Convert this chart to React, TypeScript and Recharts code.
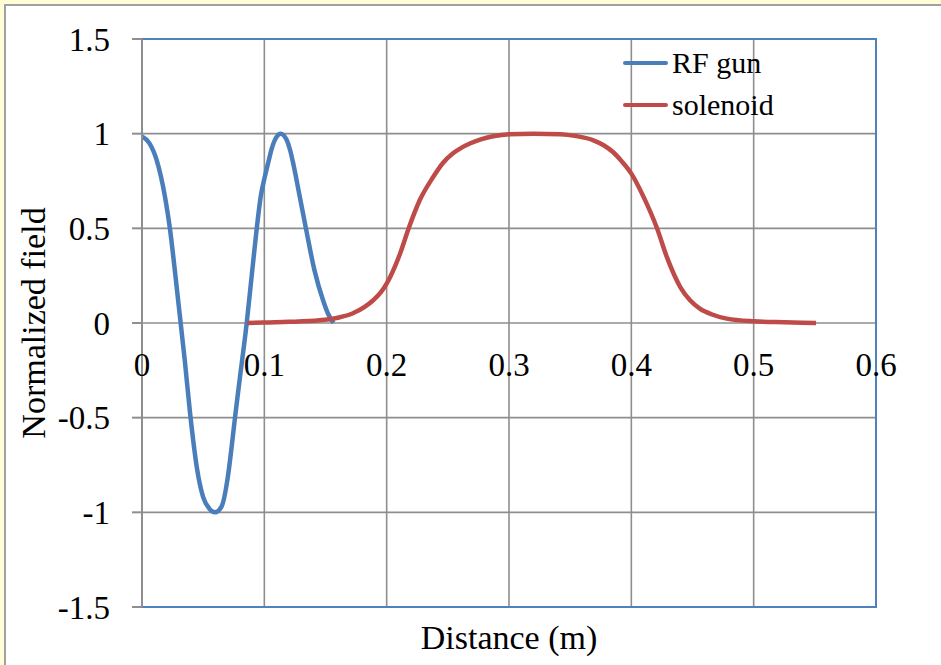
import { LineChart, Line, XAxis, YAxis, CartesianGrid, ReferenceArea } from 'recharts';

// values
const rfGunX = [
  0, 0.006, 0.012, 0.0188, 0.0228, 0.028, 0.0316, 0.035, 0.0392, 0.045, 0.05, 0.055, 0.0597,
  0.065, 0.07, 0.073, 0.076, 0.08, 0.0856, 0.09, 0.0938, 0.097, 0.1005, 0.1033, 0.106, 0.11,
  0.1134, 0.118, 0.121, 0.1237, 0.129, 0.134, 0.141, 0.148, 0.152, 0.1565,
];
const rfGunField = [
  0.985, 0.95, 0.86, 0.666, 0.5, 0.21, 0, -0.2, -0.47, -0.77, -0.92, -0.98, -1.0,
  -0.97, -0.82, -0.67, -0.5, -0.29, 0, 0.27, 0.5, 0.666, 0.775, 0.85, 0.92, 0.983,
  1.0, 0.97, 0.915, 0.84, 0.666, 0.5, 0.278, 0.12, 0.05, 0,
];
const solenoidX = [
  0.086, 0.1, 0.12, 0.145, 0.16, 0.172, 0.182, 0.189, 0.195, 0.2, 0.211, 0.218, 0.227, 0.238,
  0.246, 0.254, 0.261, 0.268, 0.277, 0.287, 0.3, 0.32, 0.342, 0.355, 0.369, 0.377, 0.385, 0.392,
  0.4, 0.41, 0.421, 0.429, 0.44, 0.448, 0.456, 0.466, 0.478, 0.5, 0.525, 0.551,
];
const solenoidField = [
  0, 0.003, 0.006, 0.014, 0.028, 0.05, 0.085, 0.12, 0.16, 0.208, 0.367, 0.5, 0.648, 0.771,
  0.845, 0.895, 0.925, 0.948, 0.97, 0.986, 0.997, 1.0, 0.997, 0.987, 0.965, 0.94, 0.903, 0.855,
  0.789, 0.666, 0.5, 0.349, 0.19, 0.12, 0.076, 0.045, 0.023, 0.009, 0.004, 0,
];
const xTicks = [0, 0.1, 0.2, 0.3, 0.4, 0.5, 0.6];
const yTicks = [-1.5, -1, -0.5, 0, 0.5, 1, 1.5];

const rfGunData = rfGunX.map((x, i) => ({ x, y: rfGunField[i] }));
const solenoidData = solenoidX.map((x, i) => ({ x, y: solenoidField[i] }));

const series = [
  { name: 'RF gun', color: '#4A7EBB', data: rfGunData },
  { name: 'solenoid', color: '#BE4B48', data: solenoidData },
];

const W = 941;
const H = 665;
const MARGIN = { top: 39, right: 65, bottom: 0, left: 0 };
const Y_AXIS_W = 142;
const X_AXIS_H = 58;
const PLOT_H = H - MARGIN.top - X_AXIS_H;
const ZERO_Y = MARGIN.top + PLOT_H / 2;
const FONT = '"Liberation Serif", "Times New Roman", serif';
const GRID = '#8e8e8e';

// x tick labels sit just under the zero line, like the Excel original
function XTick({ x, payload }: any) {
  return (
    <text x={x} y={ZERO_Y + 42} textAnchor="middle" dominantBaseline="central" fontSize={33} fill="#000" fontFamily={FONT}>
      {payload.value}
    </text>
  );
}

// legend drawn as an overlay so it doesn't eat into the plot area
function LegendBox() {
  return (
    <div style={{ position: 'absolute', left: 623, top: 42, fontFamily: FONT, fontSize: 30, color: '#000' }}>
      {series.map((s) => (
        <div key={s.name} style={{ display: 'flex', alignItems: 'center', height: 42, whiteSpace: 'nowrap' }}>
          <span style={{ display: 'inline-block', width: 45, height: 4, borderRadius: 2, background: s.color, marginRight: 4 }} />
          <span>{s.name}</span>
        </div>
      ))}
    </div>
  );
}

export default function App() {
  return (
    <div style={{ position: 'fixed', left: 0, top: 0, width: W, height: H, background: '#FFFDD6' }}>
      <div style={{ position: 'absolute', left: 4, top: 4, right: 0, bottom: 0, background: '#fff', borderLeft: '2px solid #a0a0a0', borderTop: '2px solid #a0a0a0' }} />
      <div style={{ position: 'absolute', left: 0, top: 0 }}>
        <LineChart width={W} height={H} margin={MARGIN}>
          <CartesianGrid stroke={GRID} strokeWidth={1.6} />
          <XAxis
            type="number"
            dataKey="x"
            domain={[0, 0.6]}
            ticks={xTicks}
            interval={0}
            height={X_AXIS_H}
            axisLine={false}
            tickLine={false}
            tick={<XTick />}
            allowDataOverflow
            label={{ value: 'Distance (m)', position: 'insideBottom', offset: 16, fill: '#000', fontSize: 34, fontFamily: FONT }}
          />
          <YAxis
            type="number"
            domain={[-1.5, 1.5]}
            ticks={yTicks}
            interval={0}
            width={Y_AXIS_W}
            tickSize={10}
            tickMargin={22}
            axisLine={{ stroke: GRID, strokeWidth: 2 }}
            tickLine={{ stroke: GRID, strokeWidth: 2 }}
            tick={{ fill: '#000', fontSize: 33, fontFamily: FONT }}
            allowDataOverflow
            label={{
              value: 'Normalized field',
              angle: -90,
              position: 'insideLeft',
              offset: 33,
              fill: '#000',
              fontSize: 34,
              fontFamily: FONT,
              style: { textAnchor: 'middle' },
            }}
          />
          <ReferenceArea x1={0} x2={0.6} y1={-1.5} y2={1.5} fill="none" stroke="#4F81BD" strokeWidth={2} ifOverflow="visible" />
          {series.map((s) => (
            <Line
              key={s.name}
              data={s.data}
              dataKey="y"
              name={s.name}
              type="monotone"
              stroke={s.color}
              strokeWidth={4.5}
              dot={false}
              activeDot={false}
              isAnimationActive={false}
            />
          ))}
        </LineChart>
      </div>
      <LegendBox />
    </div>
  );
}
